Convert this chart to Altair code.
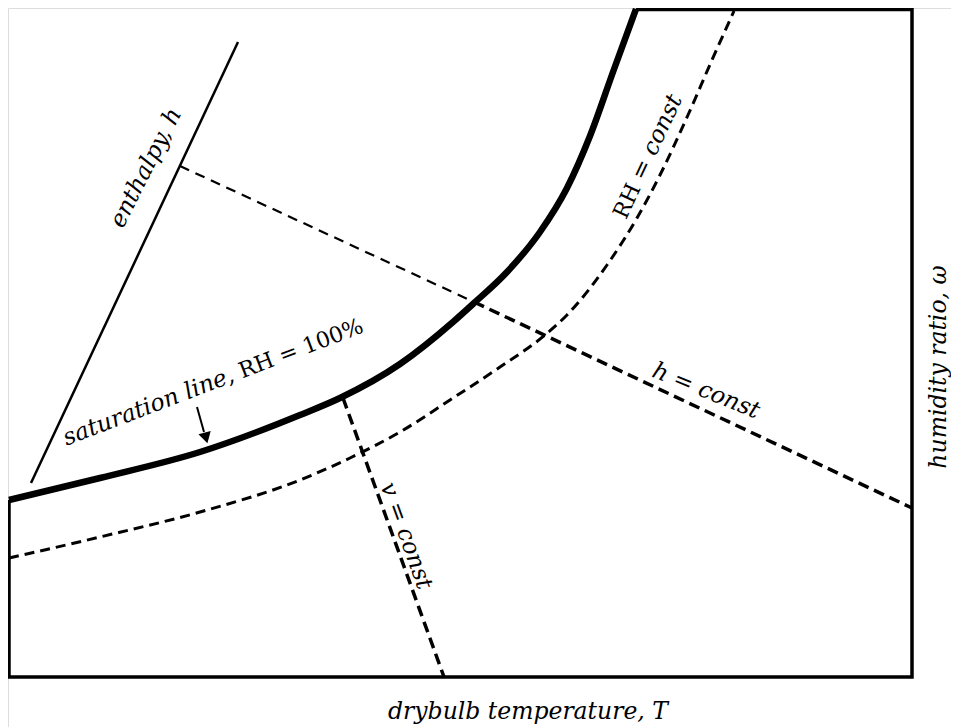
import math
import altair as alt
import pandas as pd

# --- data (pixel-like drawing units) ---
frame_x = [636, 912, 912, 9, 9]
frame_y = [9.5, 9.5, 677, 677, 500]

sat_x = [9, 100, 200, 300, 340, 400, 453, 473, 507, 540, 567, 590, 613, 636]
sat_y = [500, 478, 452, 415, 398, 364, 322, 304, 272, 232, 188, 136, 72, 9]

rh_x = [9, 100, 200, 300, 350, 400, 450, 500, 545, 567, 607, 637, 660, 688, 712, 734]
rh_y = [558, 537, 512, 480, 458, 432, 400, 367, 335, 315, 265, 218, 175, 115, 60, 11]

enth_x = [31, 238]
enth_y = [483, 42]

h1_x = [180, 474]
h1_y = [166, 302]
h2_x = [474, 912]
h2_y = [302, 508]

v_x = [343, 444]
v_y = [398, 677]

arrow_x = [197, 204]
arrow_y = [407, 432]
head_x = [206]
head_y = [438]

# single-style labels (centre of the text)
labels = ["enthalpy, h", "h = const", "v = const", "humidity ratio, ω", "drybulb temperature, T"]
label_x = [146, 706, 406, 939, 528]
label_y = [168, 391, 536, 367, 712]
label_angle = [297, 22, 70, 270, 0]

# two-style labels: parts, baseline start, angle, split distance along the baseline
sat_parts = ["saturation line,", "RH = 100%"]
sat_start = (63, 447)
sat_angle = 339.1
sat_split = 185

rhc_parts = ["RH", "= const"]
rhc_start = (628, 216)
rhc_angle = 295
rhc_split = 31

FS_IT = 23.5
FS_UP = 22
XS = alt.Scale(domain=[8, 951])
YS = alt.Scale(domain=[8, 727], reverse=True)
X = lambda: alt.X("x:Q", scale=XS, axis=None)
Y = lambda: alt.Y("y:Q", scale=YS, axis=None)


def line_layer(xs, ys, width, dash=None):
    df = pd.DataFrame({"x": xs, "y": ys, "i": list(range(len(xs)))})
    kw = dict(color="black", strokeWidth=width, interpolate="monotone", strokeCap="butt",
              strokeJoin="miter")
    if dash:
        kw["strokeDash"] = dash
    return alt.Chart(df).mark_line(**kw).encode(x=X(), y=Y(), order="i:Q")


def along(start, angle, d):
    a = math.radians(angle)
    return start[0] + d * math.cos(a), start[1] + d * math.sin(a)


def split_label(parts, start, angle, split, first_italic):
    p1 = along(start, angle, split)
    p2 = along(start, angle, split + 7)
    s1, f1 = ("italic", FS_IT) if first_italic else ("normal", FS_UP)
    s2, f2 = ("normal", FS_UP) if first_italic else ("italic", FS_IT)
    t1 = alt.Chart(pd.DataFrame({"t": [parts[0]], "x": [p1[0]], "y": [p1[1]]})).mark_text(
        font="DejaVu Serif", fontStyle=s1, fontSize=f1, color="black",
        align="right", baseline="alphabetic", angle=angle % 360
    ).encode(x=X(), y=Y(), text="t:N")
    t2 = alt.Chart(pd.DataFrame({"t": [parts[1]], "x": [p2[0]], "y": [p2[1]]})).mark_text(
        font="DejaVu Serif", fontStyle=s2, fontSize=f2, color="black",
        align="left", baseline="alphabetic", angle=angle % 360
    ).encode(x=X(), y=Y(), text="t:N")
    return [t1, t2]


frame = line_layer(frame_x, frame_y, 3.5)
sat = line_layer(sat_x, sat_y, 6.5)
rh = line_layer(rh_x, rh_y, 3, [10, 6])
enth = line_layer(enth_x, enth_y, 2.5)
h1 = line_layer(h1_x, h1_y, 2.2, [10, 7])
h2 = line_layer(h2_x, h2_y, 3.5, [11, 6])
v = line_layer(v_x, v_y, 3.5, [11, 6])
arrow = line_layer(arrow_x, arrow_y, 2)

head = alt.Chart(pd.DataFrame({"x": head_x, "y": head_y})).mark_point(
    shape="triangle-down", filled=True, color="black", size=160, angle=345, opacity=1
).encode(x=X(), y=Y())

lab_df = pd.DataFrame({"t": labels, "x": label_x, "y": label_y, "a": label_angle})
text = alt.Chart(lab_df).mark_text(
    font="DejaVu Serif", fontStyle="italic", fontSize=FS_IT, color="black",
    align="center", baseline="middle"
).encode(x=X(), y=Y(), text="t:N", angle=alt.Angle("a:Q", scale=None))

layers = [frame, sat, rh, enth, h1, h2, v, arrow, head, text]
layers += split_label(sat_parts, sat_start, sat_angle, sat_split, True)
layers += split_label(rhc_parts, rhc_start, rhc_angle, rhc_split, False)

chart = alt.layer(*layers).properties(
    width=943, height=719, padding=0,
    autosize=alt.AutoSizeParams(type="none"),
).configure_view(stroke=None).configure(background="white")

chart.save("out.html", embed_options={"renderer": "svg", "actions": False})
